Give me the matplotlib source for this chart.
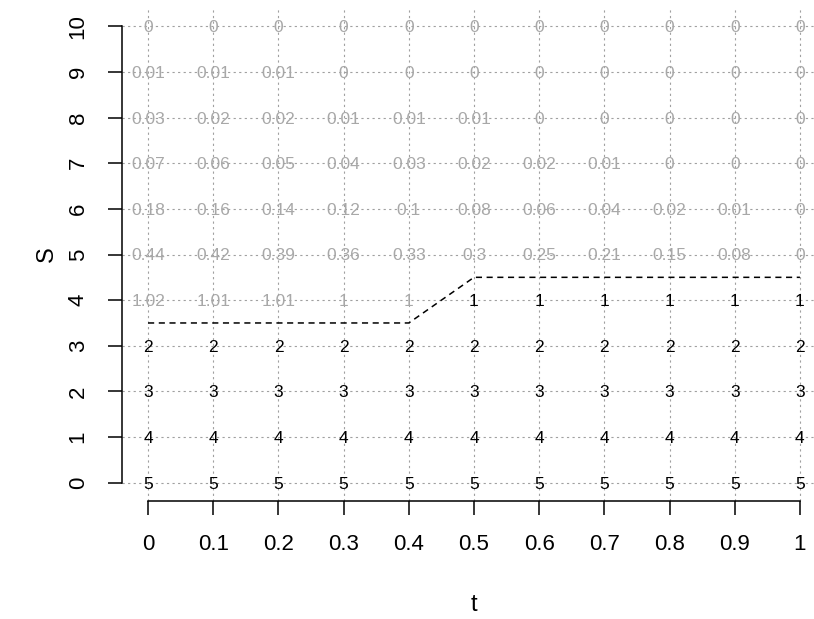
import matplotlib.pyplot as plt

plt.rcParams['font.family'] = ['Liberation Sans', 'DejaVu Sans']

# time steps and stock price grid
t = [0, 0.1, 0.2, 0.3, 0.4, 0.5, 0.6, 0.7, 0.8, 0.9, 1]
S = [0, 1, 2, 3, 4, 5, 6, 7, 8, 9, 10]

# option values, one row per stock price (S = 0 .. 10)
v_s0 = [5, 5, 5, 5, 5, 5, 5, 5, 5, 5, 5]
v_s1 = [4, 4, 4, 4, 4, 4, 4, 4, 4, 4, 4]
v_s2 = [3, 3, 3, 3, 3, 3, 3, 3, 3, 3, 3]
v_s3 = [2, 2, 2, 2, 2, 2, 2, 2, 2, 2, 2]
v_s4 = [1.02, 1.01, 1.01, 1, 1, 1, 1, 1, 1, 1, 1]
v_s5 = [0.44, 0.42, 0.39, 0.36, 0.33, 0.3, 0.25, 0.21, 0.15, 0.08, 0]
v_s6 = [0.18, 0.16, 0.14, 0.12, 0.1, 0.08, 0.06, 0.04, 0.02, 0.01, 0]
v_s7 = [0.07, 0.06, 0.05, 0.04, 0.03, 0.02, 0.02, 0.01, 0, 0, 0]
v_s8 = [0.03, 0.02, 0.02, 0.01, 0.01, 0.01, 0, 0, 0, 0, 0]
v_s9 = [0.01, 0.01, 0.01, 0, 0, 0, 0, 0, 0, 0, 0]
v_s10 = [0, 0, 0, 0, 0, 0, 0, 0, 0, 0, 0]
values = [v_s0, v_s1, v_s2, v_s3, v_s4, v_s5, v_s6, v_s7, v_s8, v_s9, v_s10]

# exercise boundary
boundary = [3.5, 3.5, 3.5, 3.5, 3.5, 4.5, 4.5, 4.5, 4.5, 4.5, 4.5]

fig = plt.figure(figsize=(8.14, 6.19), dpi=100)
W, H = 814, 619
ax = fig.add_axes([122 / W, 1 - 501 / H, (826 - 122) / W, (501 - 8) / H])
ax.set_xlim(-0.04, 1.04)
ax.set_ylim(-0.4, 10.4)

# grid
for x in t:
    ax.axvline(x, color='#a0a0a0', lw=0.8, ls=(0, (2, 3)), zorder=1)
for y in S:
    ax.axhline(y, color='#a0a0a0', lw=0.8, ls=(0, (2, 3)), zorder=1)

# cell values
for i, s in enumerate(S):
    for j, x in enumerate(t):
        col = 'black' if s < boundary[j] else '#a8a8a8'
        ax.text(x, s, f"{values[i][j]:g}", ha='center', va='center_baseline',
                fontsize=12.5, color=col, zorder=3)

ax.plot(t, boundary, color='black', lw=1.1, ls=(0, (4, 3)), zorder=2)

# R-style axes
for side in ['top', 'right']:
    ax.spines[side].set_visible(False)
ax.spines['left'].set_bounds(0, 10)
ax.spines['bottom'].set_bounds(0, 1)
ax.spines['left'].set_linewidth(1.1)
ax.spines['bottom'].set_linewidth(1.1)
ax.set_xticks(t)
ax.set_xticklabels([f"{x:g}" for x in t])
ax.set_yticks(S)
ax.set_yticklabels([str(s) for s in S], rotation=90, va='center')
ax.tick_params(length=10, width=1.1, labelsize=16, pad=14)
ax.set_xlabel('t', fontsize=17, labelpad=28)
ax.set_ylabel('S', fontsize=17, labelpad=7)

fig.savefig('out.png', dpi=100)
